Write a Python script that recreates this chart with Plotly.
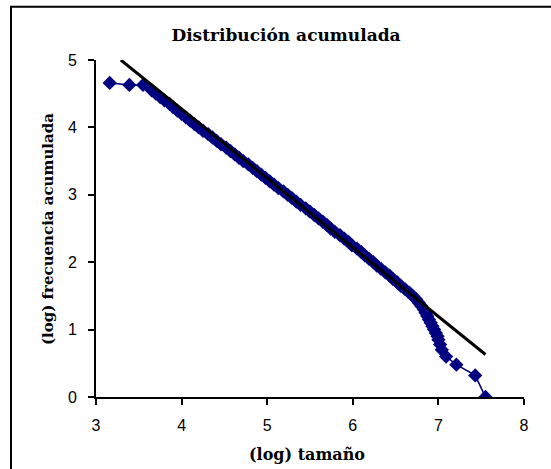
import plotly.graph_objects as go

# Observed cumulative distribution (log size vs log cumulative frequency)
log_size = [3.16, 3.39, 3.55, 3.65, 3.70, 3.75, 3.80, 3.86, 3.90, 3.95, 4.00, 4.05,
            4.10, 4.15, 4.20, 4.25, 4.31, 4.36, 4.41, 4.46, 4.52, 4.57, 4.62, 4.67,
            4.72, 4.78, 4.83, 4.88, 4.93, 4.98, 5.03, 5.08, 5.13, 5.19, 5.24, 5.29,
            5.34, 5.39, 5.45, 5.50, 5.55, 5.60, 5.65, 5.70, 5.74, 5.79, 5.85, 5.90,
            5.95, 5.99, 6.05, 6.10, 6.14, 6.19, 6.24, 6.28, 6.33, 6.38, 6.43, 6.47,
            6.52, 6.56, 6.61, 6.66, 6.70, 6.74, 6.77, 6.80, 6.83, 6.85, 6.87, 6.89,
            6.91, 6.93, 6.95, 6.97, 6.99, 7.00, 7.02, 7.04, 7.09, 7.21, 7.43, 7.55]
log_freq = [4.66, 4.63, 4.63, 4.55, 4.50, 4.45, 4.40, 4.35, 4.30, 4.25, 4.20, 4.15,
            4.10, 4.05, 4.00, 3.95, 3.90, 3.85, 3.80, 3.75, 3.70, 3.65, 3.60, 3.55,
            3.50, 3.45, 3.40, 3.35, 3.30, 3.25, 3.20, 3.15, 3.10, 3.05, 3.00, 2.95,
            2.90, 2.85, 2.80, 2.75, 2.70, 2.65, 2.60, 2.55, 2.50, 2.45, 2.40, 2.35,
            2.30, 2.25, 2.20, 2.15, 2.10, 2.05, 2.00, 1.95, 1.90, 1.85, 1.80, 1.75,
            1.70, 1.65, 1.60, 1.55, 1.50, 1.45, 1.40, 1.35, 1.30, 1.25, 1.20, 1.15,
            1.10, 1.05, 1.00, 0.95, 0.90, 0.85, 0.78, 0.70, 0.60, 0.48, 0.32, 0.00]

# Fitted power-law line
fit_x = [3.29, 7.55]
fit_y = [5.00, 0.63]

x_ticks = [3, 4, 5, 6, 7, 8]
y_ticks = [0, 1, 2, 3, 4, 5]

title_text = "Distribución acumulada"
x_title = "(log) tamaño"
y_title = "(log) frecuencia acumulada"

navy = "#000080"

fig = go.Figure()
fig.add_trace(go.Scatter(
    x=log_size, y=log_freq, mode="lines+markers",
    line=dict(color=navy, width=1.6),
    marker=dict(symbol="diamond", size=11, color=navy, line=dict(width=0)),
    showlegend=False, hoverinfo="skip"))
fig.add_trace(go.Scatter(
    x=fit_x, y=fit_y, mode="lines",
    line=dict(color="black", width=3),
    showlegend=False, hoverinfo="skip"))

W, H = 551, 469
L, R, T, B = 96, 27, 60, 72
pw, ph = W - L - R, H - T - B

def px2paper_x(px):
    return (px - L) / pw

def px2paper_y(py):
    return (H - B - py) / ph

tick_font = dict(family="Liberation Sans", size=16, color="black")
axis_common = dict(showgrid=False, zeroline=False, showline=True, linecolor="black",
                   linewidth=2, ticks="outside", ticklen=6, tickwidth=2,
                   tickcolor="black", tickfont=tick_font, mirror=False)

fig.update_layout(
    width=W, height=H,
    margin=dict(l=L, r=R, t=T, b=B),
    paper_bgcolor="white", plot_bgcolor="white",
    title=dict(text="<b>" + title_text + "</b>", xref="container", x=286 / W,
               xanchor="center", yref="container", y=1 - 35 / H, yanchor="middle",
               font=dict(family="DejaVu Serif", size=17, color="black")),
    xaxis=dict(range=[3, 8], tickvals=x_ticks, ticklabelstandoff=7, **axis_common),
    yaxis=dict(range=[0, 5], tickvals=y_ticks, ticklabelstandoff=8, **axis_common),
    annotations=[
        dict(text="<b>" + x_title + "</b>", xref="paper", yref="paper",
             x=px2paper_x(307), y=px2paper_y(454), xanchor="center", yanchor="middle",
             showarrow=False, font=dict(family="DejaVu Serif", size=16, color="black")),
        dict(text="<b>" + y_title + "</b>", xref="paper", yref="paper",
             x=px2paper_x(48), y=px2paper_y(229), xanchor="center", yanchor="middle",
             textangle=-90, showarrow=False,
             font=dict(family="DejaVu Serif", size=15, color="black")),
    ],
    shapes=[dict(type="rect", xref="paper", yref="paper",
                 x0=px2paper_x(11), x1=px2paper_x(W + 20),
                 y0=px2paper_y(H + 20), y1=px2paper_y(6.7),
                 line=dict(color="black", width=2), fillcolor="rgba(0,0,0,0)",
                 layer="below")],
)

fig.write_html("out.html")
